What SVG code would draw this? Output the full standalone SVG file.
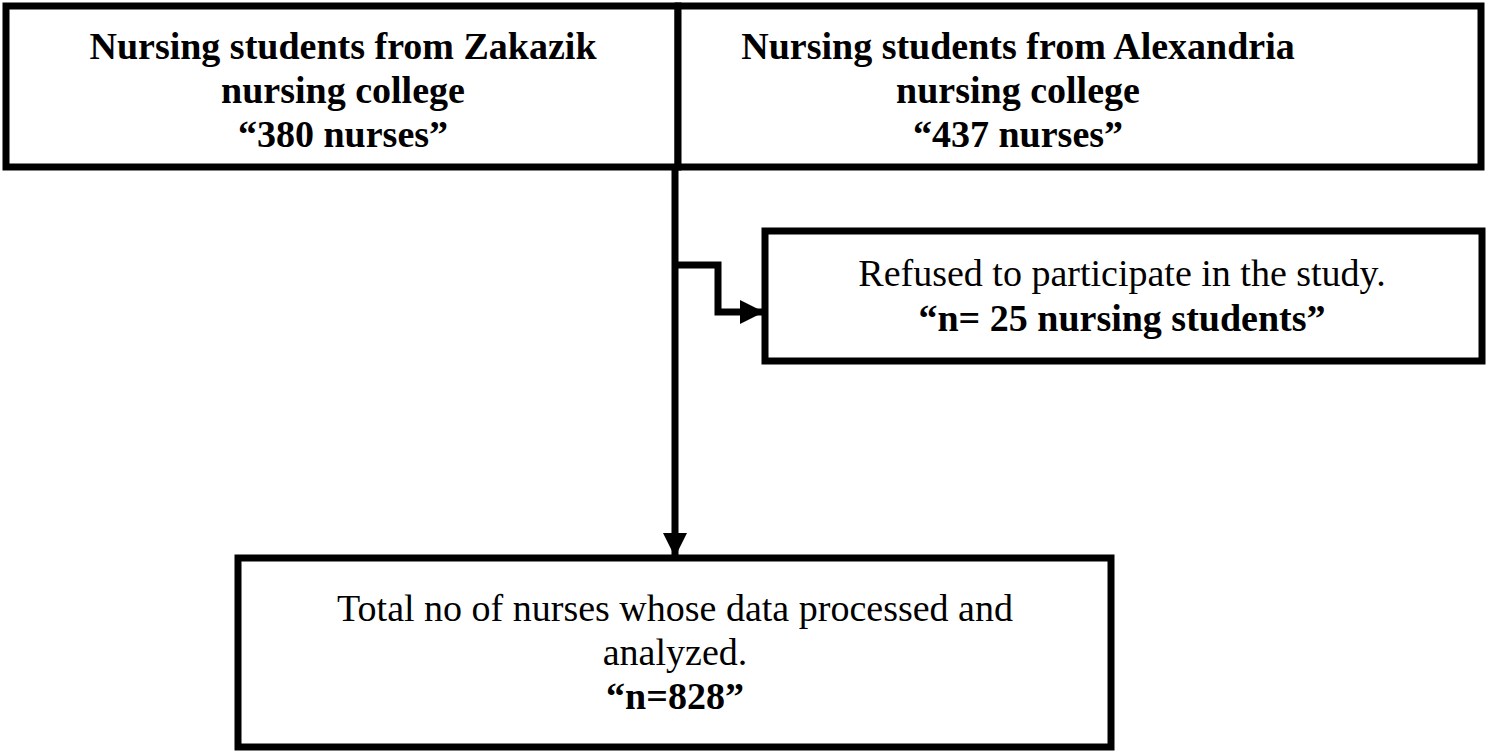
<svg xmlns="http://www.w3.org/2000/svg" width="1488" height="756" viewBox="0 0 1488 756">
<style>
.box{fill:#fff;stroke:#000;stroke-width:7}
.t{font-family:"Liberation Serif",serif;font-size:38px;text-anchor:middle;fill:#000}
.b{font-weight:bold}
.c{fill:none;stroke:#000;stroke-width:7}
</style>
<defs><marker id="a" markerUnits="userSpaceOnUse" markerWidth="26" markerHeight="26" refX="22" refY="12" orient="auto"><path d="M0,0 L24,12 L0,24 Z" fill="#000"/></marker></defs>
<g id="n1"><rect class="box" x="6" y="6" width="672" height="161"/>
<text class="t b" x="343" y="59">Nursing students from Zakazik</text>
<text class="t b" x="343" y="103">nursing college</text>
<text class="t b" x="343" y="147">“380 nurses”</text></g>
<g id="n2"><rect class="box" x="678" y="6" width="803" height="161"/>
<text class="t b" x="1018" y="59">Nursing students from Alexandria</text>
<text class="t b" x="1018" y="103">nursing college</text>
<text class="t b" x="1018" y="147">“437 nurses”</text></g>
<g id="n3"><rect class="box" x="765" y="231" width="717" height="130"/>
<text class="t" x="1122" y="286">Refused to participate in the study.</text>
<text class="t b" x="1122" y="331">“n= 25 nursing students”</text></g>
<g id="n4"><rect class="box" x="238" y="558" width="873" height="189"/>
<text class="t" x="675" y="621">Total no of nurses whose data processed and</text>
<text class="t" x="675" y="665">analyzed.</text>
<text class="t b" x="675" y="709">“n=828”</text></g>
<g id="connectors">
<path class="c" d="M675,167 V555" marker-end="url(#a)"/>
<path class="c" d="M675,265 H718 V312 H762" marker-end="url(#a)"/>
</g>
</svg>
